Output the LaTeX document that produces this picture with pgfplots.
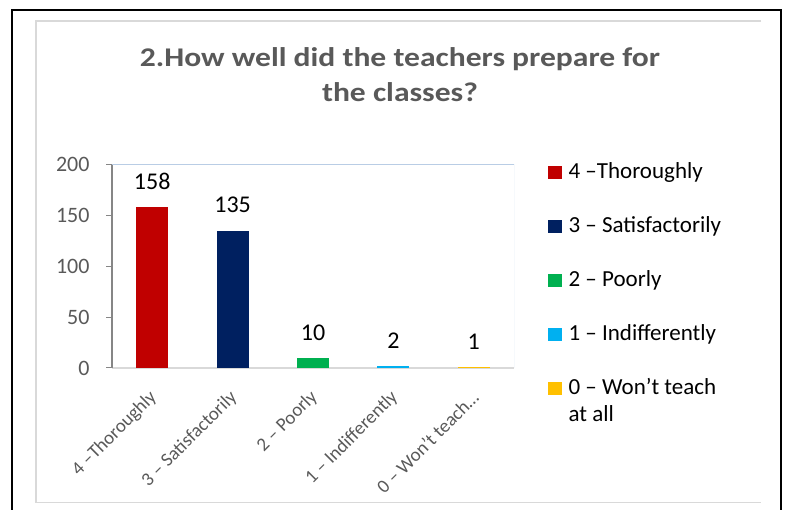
\documentclass[border=0pt]{standalone}
\usepackage{pgfplots}
\pgfplotsset{compat=1.18}
\usepackage{fontspec}
\setmainfont{Carlito}
\definecolor{cRed}{HTML}{C00000}
\definecolor{cNavy}{HTML}{002060}
\definecolor{cGreen}{HTML}{00B050}
\definecolor{cCyan}{HTML}{00B0F0}
\definecolor{cOrange}{HTML}{FFC000}
\definecolor{txtgray}{HTML}{595959}
\definecolor{axgray}{HTML}{868686}
\definecolor{framegray}{HTML}{D9D9D9}
\definecolor{plotblue}{HTML}{B9CDE5}
\begin{document}
\begin{tikzpicture}[x=1pt,y=1pt]
\useasboundingbox (0pt,0pt) rectangle (786pt,510pt);
% outer frame
\draw[black, line width=2pt] (12pt,0pt) -- (12pt,500pt) -- (781pt,500pt) -- (781pt,0pt);
% inner frame
\draw[framegray, line width=1.5pt] (761pt,489pt) -- (36pt,489pt) -- (36pt,7.5pt) -- (761pt,7.5pt);
% title
\node[anchor=base, font=\fontsize{27}{33}\selectfont\bfseries, text=txtgray, xscale=1.17, inner sep=0pt] at (400pt,443pt) {2.How well did the teachers prepare for};
\node[anchor=base, font=\fontsize{27}{33}\selectfont\bfseries, text=txtgray, xscale=1.17, inner sep=0pt] at (400pt,408pt) {the classes?};
\begin{axis}[
  at={(112pt,142pt)}, anchor=south west,
  scale only axis, width=402pt, height=203.5pt,
  xmin=-0.5, xmax=4.5, ymin=0, ymax=200,
  ybar, bar width=32pt, bar shift=0pt,
  axis x line*=bottom, axis y line*=left,
  x axis line style={framegray, line width=1.5pt},
  y axis line style={axgray, line width=1.2pt},
  ytick={0,50,100,150,200},
  xtick={0,1,2,3,4},
  xticklabels={{4 --Thoroughly},{3 -- Satisfactorily},{2 -- Poorly},{1 -- Indifferently},{0 -- Won’t teach…}},
  tick align=outside, major tick length=6pt,
  ytick style={axgray, line width=1pt},
  xtick style={draw=none},
  /pgf/number format/assume math mode=true,
  yticklabel style={font=\fontsize{22}{26}\selectfont, text=txtgray, xshift=-13pt},
  xticklabel style={font=\fontsize{19}{22}\selectfont, text=txtgray, xshift=4pt, yshift=-18pt, rotate=45, anchor=east},
  nodes near coords,
  nodes near coords style={font=\fontsize{24}{28}\selectfont, text=black, anchor=south, yshift=14pt},
  legend cell align=left,
  legend image code/.code={\fill[#1] (0pt,-6.7pt) rectangle (13.4pt,6.7pt);},
  legend style={draw=none, fill=none, anchor=north west, at={(axis description cs:1.0846,1.0221)},
    inner sep=0pt, font=\fontsize{23}{27}\selectfont, row sep=29pt, column sep=5pt,
    nodes={text height=16pt, text depth=5pt, inner sep=2pt}},
]
\addplot[fill=cRed, draw=none, bar shift=0pt] coordinates {(0,158)};
\addplot[fill=cNavy, draw=none, bar shift=0pt] coordinates {(1,135)};
\addplot[fill=cGreen, draw=none, bar shift=0pt] coordinates {(2,10)};
\addplot[fill=cCyan, draw=none, bar shift=0pt] coordinates {(3,2)};
\addplot[fill=cOrange, draw=none, bar shift=0pt] coordinates {(4,1)};
\legend{{4 --Thoroughly},{3 -- Satisfactorily},{2 -- Poorly},{1 -- Indifferently},{\begin{tabular}[t]{@{}l@{}}0 -- Won’t teach\\at all\end{tabular}}}
\draw[plotblue, line width=1pt] (rel axis cs:0,1) -- (rel axis cs:1,1) -- (rel axis cs:1,0);
\end{axis}
\end{tikzpicture}
\end{document}
